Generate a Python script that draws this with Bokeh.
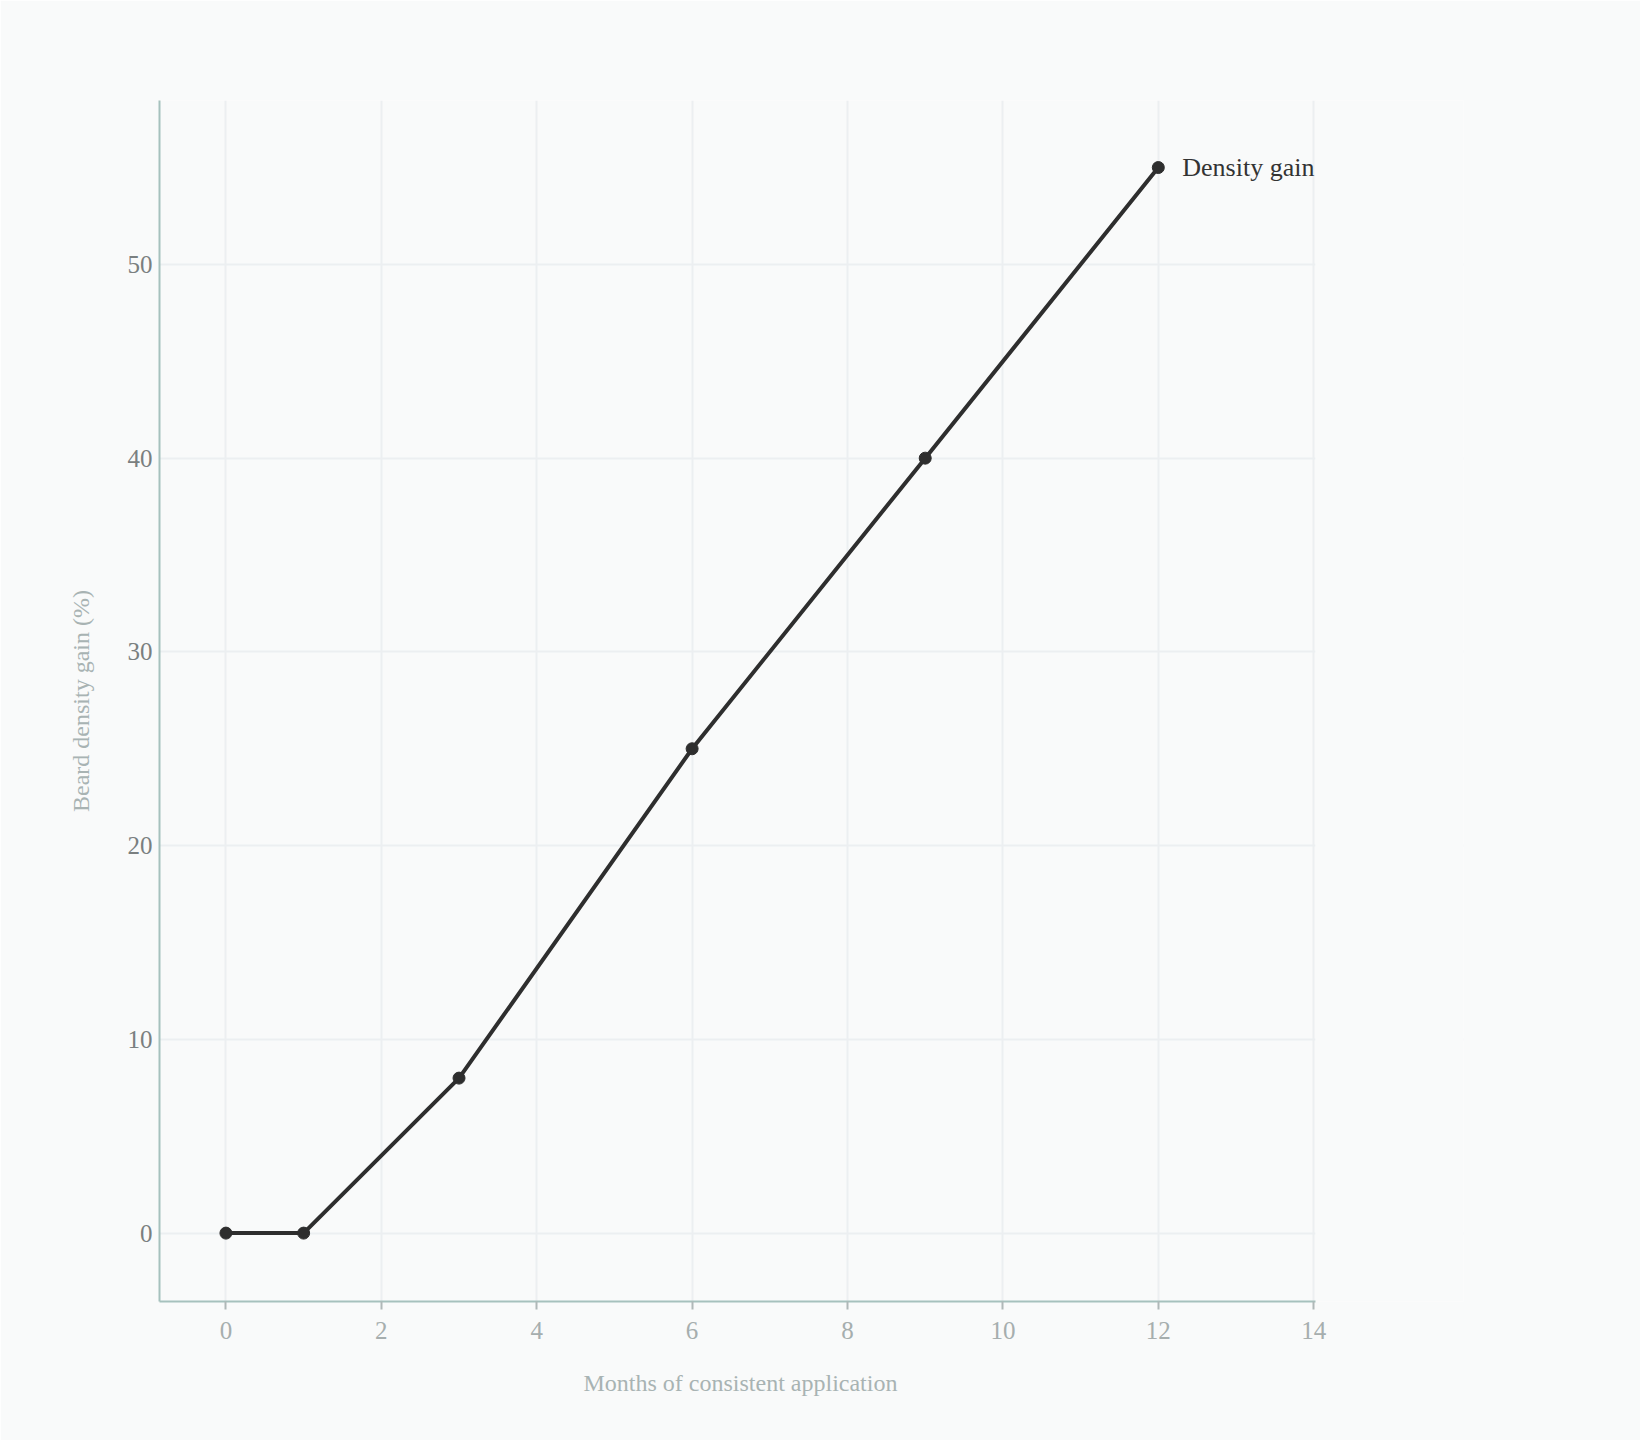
from bokeh.plotting import figure
from bokeh.models import ColumnDataSource, Range1d, FixedTicker, Label, BoxAnnotation, Title
from bokeh.embed import file_html
from bokeh.resources import INLINE

# ---- data ----
months = [0, 1, 3, 6, 9, 12]
density_gain = [0, 0, 8, 25, 40, 55]
series_name = "Density gain"
x_ticks = [0, 2, 4, 6, 8, 10, 12, 14]
y_ticks = [0, 10, 20, 30, 40, 50]
x_title = "Months of consistent application"
y_title = "Beard density gain (%)"

BG = "#f9fafa"
FONT = "Liberation Serif"

X_MIN, X_MAX = -0.855, 14.02     # visible axis extent
X_CANVAS_END = 15.928            # frame extends right so the end label is not clipped

src = ColumnDataSource(dict(x=months, y=density_gain))

p = figure(
    frame_width=1304, frame_height=1201,
    min_border_left=159, min_border_right=177,
    min_border_top=100, min_border_bottom=139,
    x_range=Range1d(X_MIN, X_CANVAS_END), y_range=Range1d(-3.53, 58.46),
    output_backend="svg", toolbar_location=None,
    background_fill_color=BG, border_fill_color=BG,
)
p.outline_line_color = None

# mask the area right of the axis extent (hides horizontal grid lines there)
p.add_layout(BoxAnnotation(left=X_MAX, fill_color=BG, fill_alpha=1.0,
                           line_color=None, level="underlay"))

p.line("x", "y", source=src, line_color="#2e2e2e", line_width=4)
p.scatter("x", "y", source=src, size=12, fill_color="#2e2e2e", line_color="#2e2e2e")

end_label = Label(x=months[-1], y=density_gain[-1], text=series_name,
                  x_offset=24, text_baseline="middle", text_align="left",
                  text_font=FONT, text_font_size="26px", text_color="#333333")
p.add_layout(end_label)

# grids
for g in (p.xgrid, p.ygrid):
    g.grid_line_color = "#eceff1"
    g.grid_line_width = 2
p.xaxis.ticker = FixedTicker(ticks=x_ticks)
p.yaxis.ticker = FixedTicker(ticks=y_ticks)
p.xgrid.ticker = FixedTicker(ticks=x_ticks)
p.ygrid.ticker = FixedTicker(ticks=y_ticks)

# axes
axis_col = "#a6c1bd"
for ax in (p.xaxis, p.yaxis):
    ax.axis_line_color = axis_col
    ax.axis_line_width = 2
    ax.minor_tick_line_color = None
    ax.major_label_text_font = FONT
    ax.major_label_text_font_size = "25px"
    ax.axis_label_text_font = FONT
    ax.axis_label_text_font_size = "24px"
    ax.axis_label_text_font_style = "normal"
    ax.axis_label_text_color = "#a8b3b3"

p.xaxis.bounds = (X_MIN, X_MAX)
p.xaxis.major_tick_in = 0
p.xaxis.major_tick_out = 8
p.xaxis.major_tick_line_color = "#b0b8b8"
p.xaxis.major_tick_line_width = 2
p.xaxis.major_label_text_color = "#a6aeae"
p.xaxis.major_label_standoff = 12

# x-axis title centred under the visible axis extent
x_title_model = Title(text=x_title, align="left", offset=424, vertical_align="top",
                      standoff=56, text_font=FONT, text_font_size="24px",
                      text_font_style="normal", text_color="#a8b3b3")
p.add_layout(x_title_model, "below")

p.yaxis.axis_label = y_title
p.yaxis.major_tick_line_color = None
p.yaxis.major_tick_in = 0
p.yaxis.major_tick_out = 0
p.yaxis.major_label_text_color = "#7a7f80"
p.yaxis.major_label_standoff = 7
p.yaxis.axis_label_standoff = 31

open("out.html", "w").write(file_html(p, INLINE))
